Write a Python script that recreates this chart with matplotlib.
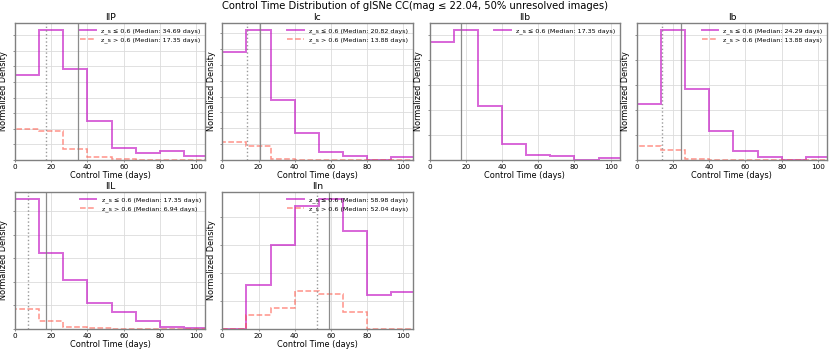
import numpy as np
import matplotlib
matplotlib.use("Agg")
import matplotlib.pyplot as plt
from matplotlib.ticker import MultipleLocator

# ---- data ----
bin_edges = [0, 13.33, 26.67, 40.0, 53.33, 66.67, 80.0, 93.33, 106.67]

types = ["IIP", "Ic", "IIb", "Ib", "IIL", "IIn"]

low_IIP = [0.0136, 0.0209, 0.0145, 0.0063, 0.0019, 0.0011, 0.0015, 0.0007]
high_IIP = [0.0050, 0.0047, 0.0018, 0.0005, 0.00016, 0.00005, 0.0, 0.0]

low_Ic = [0.0171, 0.0206, 0.0094, 0.0043, 0.0013, 0.0006, 0.0, 0.0004]
high_Ic = [0.0028, 0.0022, 0.0001, 0.0, 0.0, 0.0, 0.0, 0.0]

low_IIb = [0.0235, 0.0260, 0.0108, 0.0032, 0.0009, 0.0007, 0.0, 0.0004]
high_IIb = None

low_Ib = [0.0112, 0.0260, 0.0141, 0.0057, 0.0017, 0.0005, 0.0, 0.0005]
high_Ib = [0.0028, 0.0019, 0.0001, 0.0, 0.0, 0.0, 0.0, 0.0]

low_IIL = [0.0277, 0.0162, 0.0104, 0.0055, 0.0037, 0.0017, 0.0005, 0.0003]
high_IIL = [0.0042, 0.0016, 0.0005, 0.00015, 0.0, 0.0, 0.0, 0.0]

low_IIn = [0.0, 0.0079, 0.0150, 0.0219, 0.0233, 0.0175, 0.0060, 0.0066]
high_IIn = [0.0, 0.0025, 0.0037, 0.0067, 0.0062, 0.0031, 0.0, 0.0]

median_low = {"IIP": 34.69, "Ic": 20.82, "IIb": 17.35, "Ib": 24.29, "IIL": 17.35, "IIn": 58.98}
median_high = {"IIP": 17.35, "Ic": 13.88, "IIb": None, "Ib": 13.88, "IIL": 6.94, "IIn": 52.04}

low_series = {"IIP": low_IIP, "Ic": low_Ic, "IIb": low_IIb, "Ib": low_Ib, "IIL": low_IIL, "IIn": low_IIn}
high_series = {"IIP": high_IIP, "Ic": high_Ic, "IIb": high_IIb, "Ib": high_Ib, "IIL": high_IIL, "IIn": high_IIn}

ytick_step = {"IIP": 0.0025, "Ic": 0.0025, "IIb": 0.005, "Ib": 0.005, "IIL": 0.005, "IIn": 0.005}

title = "Control Time Distribution of glSNe CC(mag \u2264 22.04, 50% unresolved images)"

# ---- figure ----
plt.rcParams['font.family'] = ['DejaVu Sans']
fig, axes = plt.subplots(2, 4, figsize=(8.3, 3.51), dpi=100)
fig.subplots_adjust(left=0.0181, right=0.9964, top=0.9345, bottom=0.0627,
                    wspace=0.0895, hspace=0.2336)

spine_col = "#808080"
for i, t in enumerate(types):
    ax = axes.flat[i]
    ml = median_low[t]
    mh = median_high[t]
    ax.stairs(low_series[t], bin_edges, color="m", alpha=0.6, linewidth=1.4,
              label=f"z_s \u2264 0.6 (Median: {ml:.2f} days)")
    if high_series[t] is not None:
        ax.stairs(high_series[t], bin_edges, color="#ff4a3a", alpha=0.6, linewidth=1.1,
                  linestyle="--", label=f"z_s > 0.6 (Median: {mh:.2f} days)")
    ax.axvline(ml, color="gray", linestyle="-", linewidth=0.9, alpha=0.9)
    if mh is not None:
        ax.axvline(mh, color="gray", linestyle=":", linewidth=1.0, alpha=0.8)
    ax.set_xlim(0, 105)
    ax.yaxis.set_major_locator(MultipleLocator(ytick_step[t]))
    ax.xaxis.set_major_locator(MultipleLocator(20))
    ax.set_yticklabels([])
    ax.tick_params(axis="both", labelsize=5.2, length=1.5, width=0.6,
                   color=spine_col, pad=1.2)
    ax.grid(True, color="#dcdcdc", linewidth=0.6)
    ax.set_axisbelow(True)
    for s in ax.spines.values():
        s.set_color(spine_col)
        s.set_linewidth(1.0)
    ax.set_title(t, fontsize=6.6, pad=2.5)
    ax.set_xlabel("Control Time (days)", fontsize=5.9, labelpad=1)
    ax.set_ylabel("Normalized Density", fontsize=5.9, labelpad=2)
    ax.legend(loc="upper right", fontsize=4.6, frameon=False, handlelength=2.6,
              borderaxespad=0.3, labelspacing=0.55)

for j in range(len(types), 8):
    axes.flat[j].remove()

fig.suptitle(title, fontsize=7.2, y=0.998)
fig.savefig("out.png", dpi=100)
